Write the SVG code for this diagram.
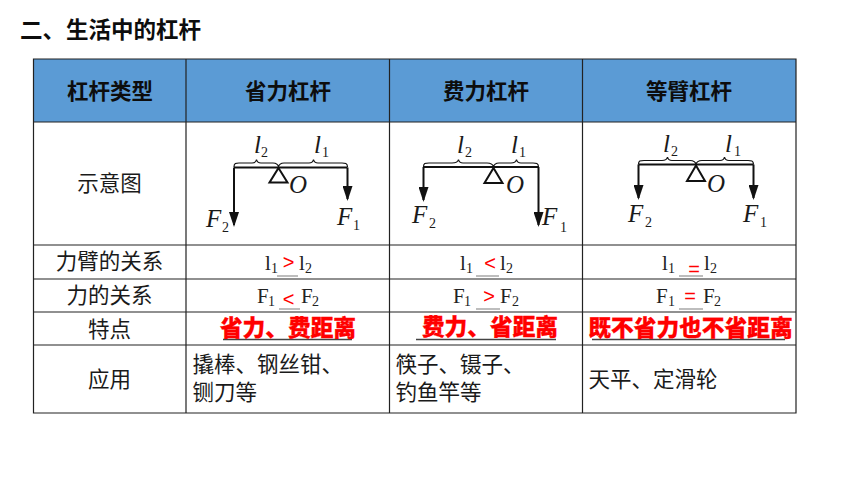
<svg xmlns="http://www.w3.org/2000/svg" width="860" height="484" viewBox="0 0 860 484">
<style>
.cjk{font-family:"Noto Sans CJK SC","Noto Sans",sans-serif}
.h{font-size:21.5px;font-weight:700;fill:#0d0d0d;text-anchor:middle}
.b{font-size:21.5px;fill:#1a1a1a}
.m{text-anchor:middle}
.r{font-size:22.7px;font-weight:900;fill:#f00;text-anchor:middle;stroke:#f00;stroke-width:.3}
.g{stroke:#222;stroke-width:1.2;fill:none}
.ul{stroke:#444;stroke-width:1.4;fill:none}
.ul2{stroke:#999;stroke-width:1.3;fill:none}
.t{font-family:"Liberation Serif",serif;font-size:21px;fill:#222}
.s{font-family:"Liberation Serif",serif;font-size:14px;fill:#222}
.op{font-family:"Liberation Sans",sans-serif;font-size:20px;fill:#f00;text-anchor:middle}
.i{font-family:"Liberation Serif",serif;font-style:italic;font-size:25px;fill:#1a1a1a}
.is{font-family:"Liberation Serif",serif;font-size:14px;fill:#1a1a1a}
.beam{stroke:#111;stroke-width:2;fill:none}
.brace{stroke:#111;stroke-width:1.2;fill:none}
.tri{stroke:#111;stroke-width:2;fill:#fff}
</style>
<defs>
<marker id="ah" markerUnits="userSpaceOnUse" markerWidth="12" markerHeight="16" refX="5" refY="13" orient="0"><path d="M0 0L10 0L5 15Z" fill="#111"/></marker>
</defs>
<rect width="860" height="484" fill="#fff"/>
<text class="cjk" x="20" y="38" font-size="22.5" font-weight="700" fill="#0d0d0d">二、</text>
<text class="cjk" x="66" y="38" font-size="22.5" font-weight="700" fill="#0d0d0d">生活中的杠杆</text>
<g id="table">
<rect x="33.5" y="59" width="762.5" height="63" fill="#5b9bd5"/>
<path class="g" d="M33.5 59H796V413H33.5ZM33.5 122H796M33.5 245H796M33.5 279H796M33.5 312H796M33.5 345H796M186 59V413M389.5 59V413M582.5 59V413"/>
</g>
<g id="header">
<text class="h cjk" x="110" y="99">杠杆类型</text>
<text class="h cjk" x="288" y="99">省力杠杆</text>
<text class="h cjk" x="486" y="99">费力杠杆</text>
<text class="h cjk" x="689" y="99">等臂杠杆</text>
</g>
<g id="row-labels">
<text class="b m cjk" x="109.500" y="191">示意图</text>
<text class="b m cjk" x="109.500" y="269">力臂的关系</text>
<text class="b m cjk" x="109.500" y="303">力的关系</text>
<text class="b m cjk" x="109.500" y="337">特点</text>
<text class="b m cjk" x="109.500" y="387">应用</text>
</g>
<g id="connectors">
<path class="beam" d="M234 167.500H347.500M234 167.500V225" marker-end="url(#ah)"/>
<path class="beam" d="M347.500 167.500V199" marker-end="url(#ah)"/>
<path class="brace" d="M234 167C234 163 236 163 239 163H252C255 163 256 162 256.500 159.500C257 162 258 163 261 163H273C276 163 278 164 278.500 167C279 164 281 163 284 163H309C312 163 313 162 313.500 159.500C314 162 315 163 318 163H342C345 163 347.500 163 347.500 167"/>
<path class="beam" d="M423.500 167H538.500M423.500 167V200" marker-end="url(#ah)"/>
<path class="beam" d="M538.500 167V225" marker-end="url(#ah)"/>
<path class="brace" d="M423.500 167C423.500 163 425 163 429 163H452C455 163 458 162 458.500 159.500C459 162 460 163 463 163H487C490 163 493 164 493.500 167C494 164 496 163 499 163H511C514 163 516 162 516.500 159.500C517 162 518 163 521 163H533C536 163 538.500 163 538.500 167"/>
<path class="beam" d="M638.500 164.500H753.500M638.500 164.500V198" marker-end="url(#ah)"/>
<path class="beam" d="M753.500 164.500V198" marker-end="url(#ah)"/>
<path class="brace" d="M638.500 164.500C638.500 160.500 640 160.500 644 160.500H662C665 160.500 667 159.500 667.500 157C668 159.500 669 160.500 672 160.500H690C693 160.500 695.500 161.500 696 164.500C696.500 161.500 699 160.500 702 160.500H720C723 160.500 724 159.500 724.500 157C725 159.500 726 160.500 729 160.500H748C751 160.500 753.500 160.500 753.500 164.500"/>
</g>
<g id="lever-1">
<path class="tri" d="M278.500 168L287.500 182.500H269.500Z"/>
<text class="i" x="254" y="153">l</text><text class="is" x="261" y="157">2</text>
<text class="i" x="314" y="153">l</text><text class="is" x="322" y="157">1</text>
<text class="i" x="289" y="193">O</text>
<text class="i" x="206" y="227">F</text><text class="is" x="222" y="232">2</text>
<text class="i" x="337" y="225">F</text><text class="is" x="353" y="230">1</text>
</g>
<g id="lever-2">
<path class="tri" d="M493.500 168L502.500 183H484.500Z"/>
<text class="i" x="457" y="153">l</text><text class="is" x="465" y="157">2</text>
<text class="i" x="511" y="153">l</text><text class="is" x="519" y="157">1</text>
<text class="i" x="506" y="193">O</text>
<text class="i" x="412" y="223">F</text><text class="is" x="429" y="228">2</text>
<text class="i" x="542" y="225">F</text><text class="is" x="560" y="232">1</text>
</g>
<g id="lever-3">
<path class="tri" d="M696 165.500L705 181H687Z"/>
<text class="i" x="663" y="152">l</text><text class="is" x="671" y="156">2</text>
<text class="i" x="725" y="152">l</text><text class="is" x="734" y="156">1</text>
<text class="i" x="707" y="192">O</text>
<text class="i" x="628" y="222">F</text><text class="is" x="645" y="227">2</text>
<text class="i" x="743" y="222">F</text><text class="is" x="760" y="227">1</text>
</g>
<g id="arm-relation">
<text class="t" x="265" y="270">l</text><text class="s" x="271" y="273">1</text><path class="ul2" d="M277 276H298"/><text class="op" x="288.500" y="269">&gt;</text><text class="t" x="299" y="270">l</text><text class="s" x="305" y="273">2</text>
<text class="t" x="460" y="270">l</text><text class="s" x="466" y="273">1</text><path class="ul2" d="M476 276H499"/><text class="op" x="490" y="270">&lt;</text><text class="t" x="500" y="270">l</text><text class="s" x="506" y="273">2</text>
<text class="t" x="662" y="270">l</text><text class="s" x="668" y="273">1</text><path class="ul2" d="M679 276H703"/><text class="op" x="694" y="276">=</text><text class="t" x="704" y="270">l</text><text class="s" x="710" y="273">2</text>
</g>
<g id="force-relation">
<text class="t" x="257" y="303">F</text><text class="s" x="268" y="306">1</text><path class="ul2" d="M279 309H300"/><text class="op" x="288.500" y="306">&lt;</text><text class="t" x="301" y="303">F</text><text class="s" x="312" y="306">2</text>
<text class="t" x="453" y="303">F</text><text class="s" x="464" y="306">1</text><path class="ul2" d="M476 309H500"/><text class="op" x="489" y="303">&gt;</text><text class="t" x="500" y="303">F</text><text class="s" x="512" y="306">2</text>
<text class="t" x="656" y="303">F</text><text class="s" x="668" y="306">1</text><path class="ul2" d="M679 309H703"/><text class="op" x="690" y="303">=</text><text class="t" x="703" y="303">F</text><text class="s" x="714" y="306">2</text>
</g>
<g id="features">
<path class="ul" d="M223 339.500H352M416 339.500H556M592 339.500H785"/>
<text class="r cjk" x="288" y="336">省力、费距离</text>
<text class="r cjk" x="490" y="335">费力、省距离</text>
<text class="r cjk" x="690.500" y="336">既不省力也不省距离</text>
</g>
<g id="applications">
<text class="b cjk" x="192.500" y="372">撬棒、钢丝钳、</text>
<text class="b cjk" x="192.500" y="400">铡刀等</text>
<text class="b cjk" x="395.500" y="372">筷子、镊子、</text>
<text class="b cjk" x="395.500" y="400">钓鱼竿等</text>
<text class="b cjk" x="588.500" y="387">天平、定滑轮</text>
</g>
</svg>
